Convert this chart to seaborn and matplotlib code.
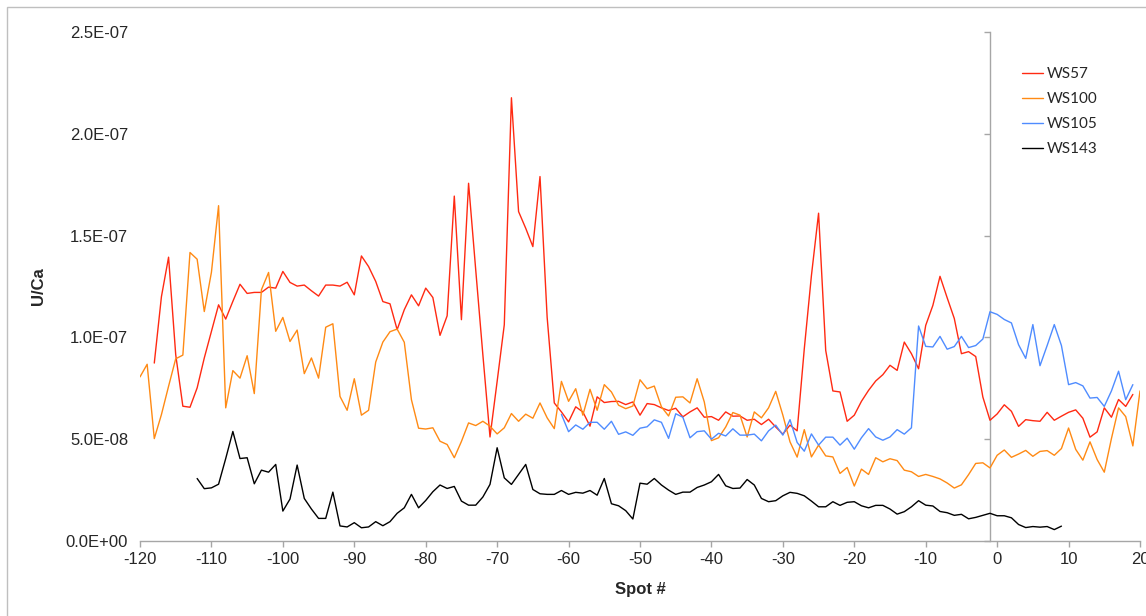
import numpy as np
import pandas as pd
import matplotlib
matplotlib.use("Agg")
import matplotlib.pyplot as plt
from matplotlib.patches import Rectangle
from matplotlib.ticker import FuncFormatter
import seaborn as sns

# U/Ca ratios (in units of 1e-8) along each laser-spot transect
ws57_start = -118
ws57 = [8.74, 12.0, 13.94, 9.15, 6.62, 6.57, 7.52, 8.99, 10.29, 11.6,
        10.9, 11.77, 12.61, 12.16, 12.21, 12.21, 12.47, 12.42, 13.24, 12.7,
        12.52, 12.57, 12.29, 12.03, 12.57, 12.57, 12.52, 12.71, 12.09, 14.0,
        13.48, 12.75, 11.76, 11.65, 10.38, 11.36, 12.09, 11.55, 12.42, 11.96,
        10.1, 11.06, 16.94, 10.87, 17.57, 13.32, 9.15, 5.11, 7.84, 10.62,
        21.77, 16.18, 15.36, 14.46, 17.9, 10.99, 6.78, 6.34, 5.85, 6.59,
        6.34, 5.64, 7.08, 6.8, 6.85, 6.86, 6.7, 6.83, 6.18, 6.75,
        6.7, 6.54, 6.41, 6.52, 6.1, 6.34, 6.54, 6.08, 6.11, 5.93,
        6.34, 6.13, 6.14, 5.93, 5.98, 5.72, 5.98, 5.6, 5.25, 5.69,
        5.41, 9.44, 13.04, 16.1, 9.36, 7.37, 7.32, 5.88, 6.18, 6.86,
        7.4, 7.86, 8.17, 8.63, 8.38, 9.77, 9.2, 8.46, 10.59, 11.57,
        13.0, 11.95, 10.93, 9.2, 9.3, 9.06, 7.07, 5.93, 6.24, 6.69,
        6.37, 5.63, 5.96, 5.91, 5.88, 6.32, 5.93, 6.13, 6.32, 6.44,
        6.03, 5.1, 5.36, 6.54, 6.08, 6.95, 6.61, 7.2]

ws100_start = -120
ws100 = [8.06, 8.68, 5.03, 6.21, 7.6, 8.95, 9.13, 14.17, 13.84, 11.27,
         13.2, 16.47, 6.54, 8.37, 8.0, 9.1, 7.24, 12.34, 13.19, 10.3,
         10.98, 9.8, 10.36, 8.22, 8.99, 8.0, 10.5, 10.67, 7.1, 6.42,
         7.97, 6.18, 6.42, 8.79, 9.77, 10.28, 10.41, 9.76, 6.94, 5.54,
         5.5, 5.56, 4.9, 4.74, 4.09, 4.89, 5.8, 5.67, 5.88, 5.64,
         5.26, 5.56, 6.26, 5.88, 6.23, 6.03, 6.78, 6.05, 5.52, 7.84,
         6.86, 7.48, 6.18, 7.45, 6.42, 7.68, 7.32, 6.67, 6.5, 6.63,
         7.92, 7.48, 7.61, 6.59, 6.14, 7.06, 7.08, 6.78, 7.97, 6.83,
         4.93, 5.07, 5.6, 6.31, 6.18, 5.11, 6.34, 6.05, 6.54, 7.35,
         6.18, 4.87, 4.12, 5.47, 4.13, 4.71, 4.18, 4.13, 3.32, 3.61,
         2.7, 3.53, 3.27, 4.09, 3.89, 4.04, 3.95, 3.48, 3.4, 3.17,
         3.27, 3.17, 3.05, 2.85, 2.6, 2.76, 3.26, 3.81, 3.84, 3.59,
         4.21, 4.47, 4.11, 4.27, 4.45, 4.16, 4.4, 4.44, 4.21, 4.54,
         5.55, 4.5, 3.97, 4.87, 4.0, 3.38, 5.03, 6.54, 6.11, 4.67,
         7.37]

ws105_start = -61
ws105 = [6.22, 5.37, 5.7, 5.49, 5.83, 5.83, 5.49, 5.88, 5.24, 5.36,
         5.19, 5.54, 5.61, 5.95, 5.83, 5.04, 6.25, 6.08, 5.07, 5.37,
         5.41, 5.0, 5.29, 5.16, 5.51, 5.2, 5.2, 5.25, 4.92, 5.41,
         5.69, 5.2, 5.96, 4.84, 4.41, 5.26, 4.71, 5.1, 5.1, 4.71,
         5.05, 4.51, 5.07, 5.52, 5.11, 4.95, 5.11, 5.47, 5.25, 5.56,
         10.56, 9.56, 9.53, 10.05, 9.42, 9.55, 10.05, 9.5, 9.6, 9.92,
         11.26, 11.13, 10.88, 10.71, 9.64, 8.97, 10.63, 8.61, 9.6, 10.63,
         9.6, 7.68, 7.78, 7.62, 7.02, 7.05, 6.61, 7.37, 8.34, 6.94,
         7.68]

ws143_start = -112
ws143 = [3.07, 2.57, 2.61, 2.79, 4.05, 5.38, 4.05, 4.09, 2.81, 3.48,
         3.38, 3.76, 1.47, 2.06, 3.73, 2.09, 1.57, 1.11, 1.11, 2.4,
         0.74, 0.69, 0.9, 0.65, 0.69, 0.95, 0.75, 0.95, 1.36, 1.63,
         2.29, 1.63, 1.99, 2.42, 2.75, 2.58, 2.68, 1.96, 1.76, 1.76,
         2.16, 2.78, 4.58, 3.1, 2.78, 3.27, 3.76, 2.53, 2.32, 2.29,
         2.29, 2.48, 2.29, 2.39, 2.35, 2.48, 2.25, 3.07, 1.83, 1.73,
         1.49, 1.08, 2.84, 2.79, 3.07, 2.75, 2.5, 2.29, 2.4, 2.4,
         2.63, 2.75, 2.91, 3.27, 2.71, 2.58, 2.6, 3.02, 2.75, 2.09,
         1.93, 1.98, 2.22, 2.39, 2.34, 2.22, 1.96, 1.68, 1.68, 1.93,
         1.75, 1.9, 1.93, 1.73, 1.63, 1.75, 1.75, 1.57, 1.32, 1.44,
         1.68, 1.98, 1.76, 1.72, 1.45, 1.39, 1.26, 1.31, 1.09, 1.16,
         1.26, 1.36, 1.24, 1.24, 1.14, 0.81, 0.66, 0.71, 0.68, 0.71,
         0.56, 0.73]

samples = ["WS57", "WS100", "WS105", "WS143"]
colors = ["#FF2A12", "#FF8A14", "#4F8CFF", "#000000"]
x_ticks = list(range(-120, 21, 10))
y_ticks = [0, 5e-8, 1e-7, 1.5e-7, 2e-7, 2.5e-7]

series = {
    "WS57": (ws57_start, ws57),
    "WS100": (ws100_start, ws100),
    "WS105": (ws105_start, ws105),
    "WS143": (ws143_start, ws143),
}
frames = []
for name in samples:
    start, vals = series[name]
    frames.append(pd.DataFrame({
        "spot": np.arange(start, start + len(vals)),
        "uca": np.asarray(vals) * 1e-8,
        "sample": name,
    }))
df = pd.concat(frames, ignore_index=True)

sns.set_theme(style="white")
plt.rcParams["font.family"] = ["Liberation Sans", "DejaVu Sans"]

fig = plt.figure(figsize=(11.46, 6.16), dpi=100)
ax = fig.add_axes([140 / 1146, 1 - 541 / 616, 1000 / 1146, 509 / 616])

sns.lineplot(data=df, x="spot", y="uca", hue="sample", hue_order=samples,
             palette=dict(zip(samples, colors)), estimator=None, sort=True,
             linewidth=1.0, ax=ax, legend=True)

axis_grey = "#A6A6A6"
ax.set_xlim(-120, 20)
ax.set_ylim(0, 2.5e-7)
ax.set_xticks(x_ticks)
ax.set_yticks(y_ticks)
ax.yaxis.set_major_formatter(FuncFormatter(lambda v, _: f"{v:.1E}"))
ax.xaxis.set_major_formatter(FuncFormatter(lambda v, _: f"{int(round(v))}"))
for side in ["top", "right", "left"]:
    ax.spines[side].set_visible(False)
ax.spines["bottom"].set_color(axis_grey)
ax.spines["bottom"].set_linewidth(1.0)
ax.tick_params(axis="x", direction="out", length=4, width=1.0, color=axis_grey,
               labelsize=12, pad=4, bottom=True)
ax.tick_params(axis="y", length=0, labelsize=12, pad=8.6, left=True)

# vertical value axis crossing the category axis at spot -1
sec = ax.secondary_yaxis((-1 - (-120)) / 140)
sec.set_alignment("left")
sec.set_yticks(y_ticks)
sec.tick_params(axis="y", direction="out", length=4, width=1.0, color=axis_grey,
                labelleft=False, labelright=False)
for sp in sec.spines.values():
    sp.set_color(axis_grey)
    sp.set_linewidth(1.0)

ax.set_xlabel("Spot #", fontsize=12, fontweight="bold", labelpad=11)
ax.set_ylabel("U/Ca", fontsize=12, fontweight="bold", labelpad=14)

handles, labels = ax.get_legend_handles_labels()
ax.legend(handles, labels, loc="upper left", frameon=False,
          bbox_to_anchor=(1022 / 1146, 1 - 67 / 616), bbox_transform=fig.transFigure,
          borderpad=0, borderaxespad=0, handlelength=1.4, handletextpad=0.2,
          labelspacing=0.72, prop={"family": ["Lato", "DejaVu Sans"], "size": 11})

# chart-area border
fig.patches.append(Rectangle((7 / 1146, -0.1), 1.2, 1.1 - 7 / 616,
                             transform=fig.transFigure, fill=False,
                             edgecolor="#BFBFBF", linewidth=1.0))

fig.savefig("out.png", dpi=100)
